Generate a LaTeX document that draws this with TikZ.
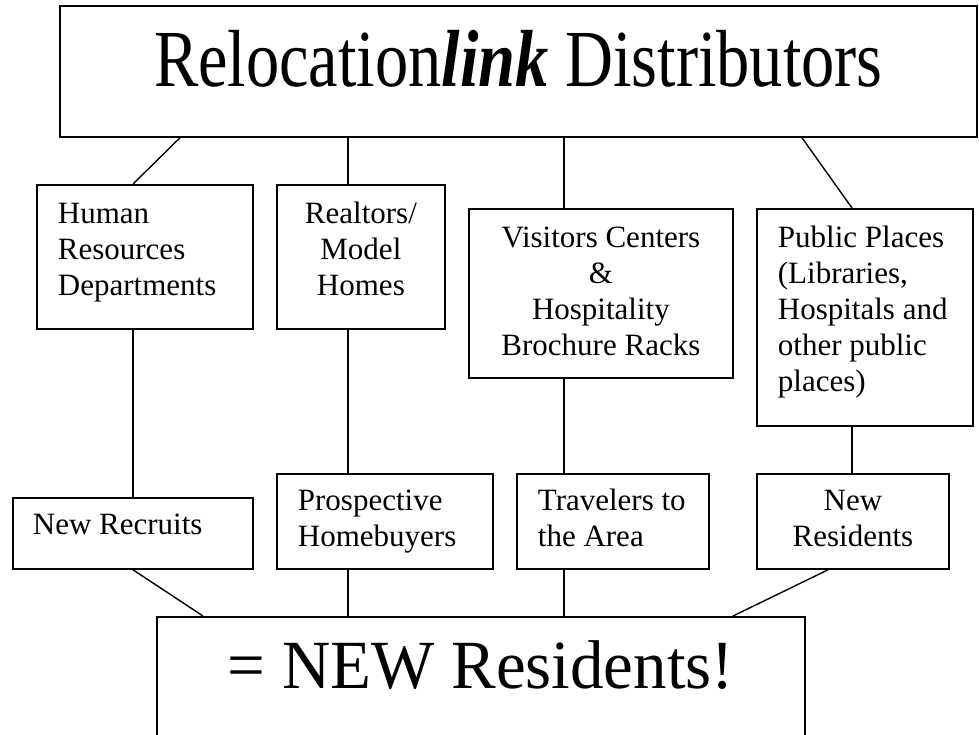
\documentclass[tikz,border=0pt]{standalone}
\usepackage{fontspec}
\usepackage{graphicx}
\setmainfont{Liberation Serif}
\tikzset{
  box/.style={draw, line width=1.8pt, inner ysep=0pt, anchor=north west,
    font=\fontsize{31}{36}\selectfont,
    execute at begin node={\spaceskip=7.75pt\relax}},
  bigbox/.style={box, inner xsep=0pt, align=center,
    execute at begin node={\spaceskip=0pt\relax}},
  conn/.style={line width=1.4pt},
}
\begin{document}
\begin{tikzpicture}[x=1pt,y=-1pt]
\useasboundingbox (0,0) rectangle (979,734);
\clip (0,0) rectangle (979,734);
% top
\node[bigbox, text width=917pt, text height=81pt, text depth=50pt,
  font=\fontsize{81}{90}\selectfont] (top) at (59,5)
  {\scalebox{0.82}[1]{Relocation\textbf{\textit{link}} Distributors}};
% middle row
\node[box, inner xsep=21pt, text width=174pt, text height=39pt, text depth=105pt, align=left] (hr) at (36,184)
  {Human\\Resources\\Departments};
\node[box, inner xsep=10pt, text width=148pt, text height=39pt, text depth=105pt, align=center] (realt) at (276,184)
  {Realtors/\\Model\\Homes};
\node[box, inner xsep=10pt, text width=244pt, text height=39pt, text depth=130pt, align=center] (visit) at (468,208)
  {Visitors~Centers\\\&\\Hospitality\\Brochure~Racks};
\node[box, inner xsep=21pt, text width=174pt, text height=39pt, text depth=178pt, align=left] (public) at (756,208)
  {Public~Places\\(Libraries,\\Hospitals~and\\other~public\\places)};
% lower row
\node[box, inner xsep=20pt, text width=200pt, text height=37pt, text depth=34pt, align=left] (recr) at (12,497)
  {New~Recruits};
\node[box, inner xsep=21pt, text width=174pt, text height=37pt, text depth=58pt, align=left] (prosp) at (276,473)
  {Prospective\\Homebuyers};
\node[box, inner xsep=21pt, text width=150pt, text height=37pt, text depth=58pt, align=left] (travel) at (516,473)
  {Travelers~to\\the~Area};
\node[box, inner xsep=10pt, text width=172pt, text height=37pt, text depth=58pt, align=center] (newres) at (756,473)
  {New\\Residents};
% result
\node[bigbox, text width=648pt, text height=72pt, text depth=150pt,
  font=\fontsize{69}{80}\selectfont] (result) at (156,616)
  {\scalebox{0.97}[1]{= NEW Residents!}};
% connectors top -> middle
\draw[conn] ([xshift=121pt]top.south west) -- ([xshift=97pt]hr.north west);
\draw[conn] ([xshift=289pt]top.south west) -- ([xshift=72pt]realt.north west);
\draw[conn] ([xshift=505pt]top.south west) -- ([xshift=96pt]visit.north west);
\draw[conn] ([xshift=743pt]top.south west) -- ([xshift=96pt]public.north west);
% middle -> lower
\draw[conn] ([xshift=97pt]hr.south west) -- ([xshift=121pt]recr.north west);
\draw[conn] ([xshift=72pt]realt.south west) -- ([xshift=72pt]prosp.north west);
\draw[conn] ([xshift=96pt]visit.south west) -- ([xshift=48pt]travel.north west);
\draw[conn] ([xshift=96pt]public.south west) -- ([xshift=96pt]newres.north west);
% lower -> result
\draw[conn] ([xshift=121pt]recr.south west) -- ([xshift=47pt]result.north west);
\draw[conn] ([xshift=72pt]prosp.south west) -- ([xshift=192pt]result.north west);
\draw[conn] ([xshift=48pt]travel.south west) -- ([xshift=408pt]result.north west);
\draw[conn] ([xshift=72pt]newres.south west) -- ([xshift=577pt]result.north west);
\end{tikzpicture}
\end{document}
